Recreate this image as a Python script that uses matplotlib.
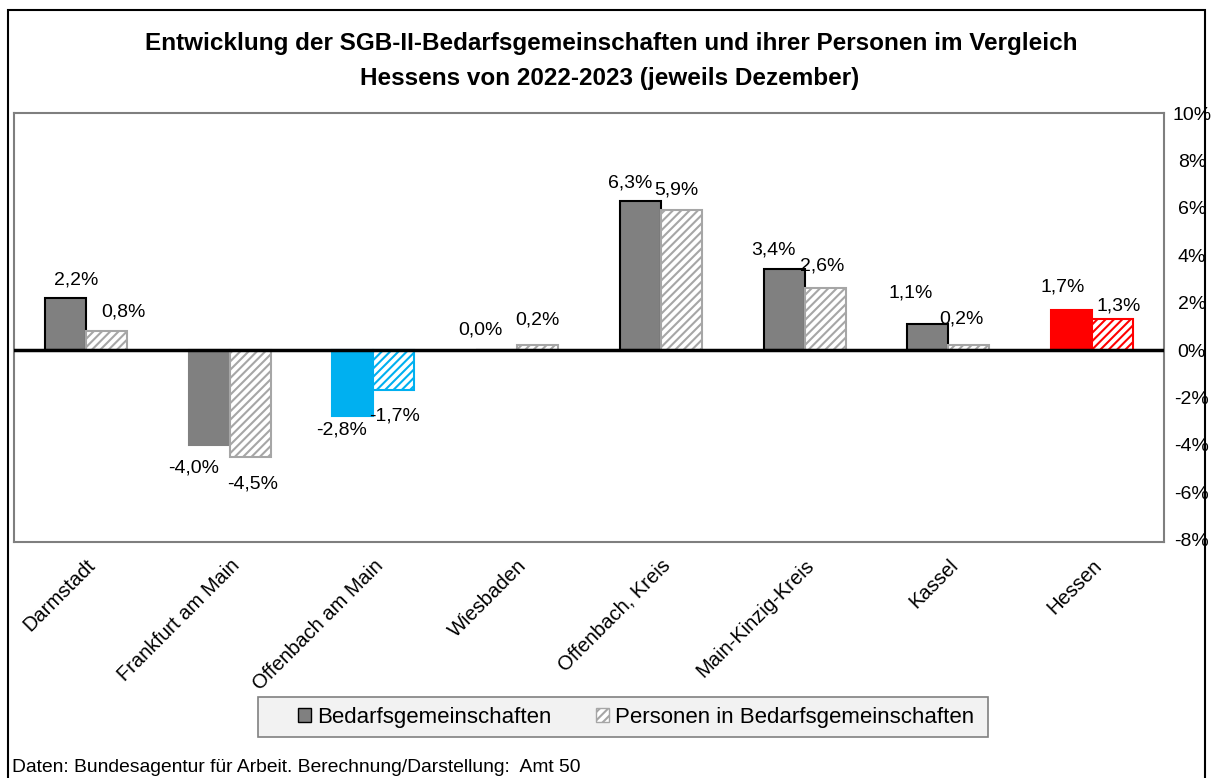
import matplotlib
matplotlib.use("Agg")
import matplotlib.pyplot as plt
from matplotlib.patches import Rectangle, Patch
from matplotlib.ticker import FuncFormatter
import numpy as np

plt.rcParams['font.family'] = ['Liberation Sans', 'DejaVu Sans']
plt.rcParams['hatch.linewidth'] = 1.5

# data (change 2022 -> 2023 in %)
regions = ["Darmstadt", "Frankfurt am Main", "Offenbach am Main", "Wiesbaden",
           "Offenbach, Kreis", "Main-Kinzig-Kreis", "Kassel", "Hessen"]
bg_values = [2.2, -4.0, -2.8, 0.0, 6.3, 3.4, 1.1, 1.7]
pers_values = [0.8, -4.5, -1.7, 0.2, 5.9, 2.6, 0.2, 1.3]
yticks = [-8, -6, -4, -2, 0, 2, 4, 6, 8, 10]

title1 = "Entwicklung der SGB-II-Bedarfsgemeinschaften und ihrer Personen im Vergleich"
title2 = "Hessens von 2022-2023 (jeweils Dezember)"
source = "Daten: Bundesagentur für Arbeit. Berechnung/Darstellung:  Amt 50"
legend_labels = ["Bedarfsgemeinschaften", "Personen in Bedarfsgemeinschaften"]

# colours per region
solid_col = ['#808080', '#808080', '#00b0f0', '#808080', '#808080', '#808080', '#808080', '#ff0000']
solid_edge = ['black', '#808080', '#00b0f0', 'black', 'black', 'black', 'black', '#ff0000']
hatch_col = ['#a6a6a6', '#a6a6a6', '#00b0f0', '#a6a6a6', '#a6a6a6', '#a6a6a6', '#a6a6a6', '#ff0000']

# hand-placed label offsets in pixels (dx, dy) from bar end, like in the original
bg_off = [(11, 18), (-16, -23), (-11, -14), (-16, 20), (-10, 18), (-11, 19), (-17, 31), (-9, 23)]
pers_off = [(17, 19), (3, -27), (1, -26), (0, 25), (-5, 20), (-3, 22), (-7, 26), (6, 13)]


def pct(v):
    return ("%.1f%%" % v).replace(".", ",")


def main():
    W, H = 1215, 778
    fig = plt.figure(figsize=(W / 100, H / 100), dpi=100)
    ax = fig.add_axes([14 / W, 1 - 542 / H, 1150 / W, 429 / H])

    x = np.arange(len(regions))
    w = 0.285
    for i in range(len(regions)):
        ax.bar(x[i] - w / 2, bg_values[i], w, color=solid_col[i],
               edgecolor=solid_edge[i], linewidth=1.5, zorder=2)
        ax.bar(x[i] + w / 2, pers_values[i], w, color='white', hatch='////',
               edgecolor=hatch_col[i], linewidth=1.5, zorder=2)

    # value labels
    for i in range(len(regions)):
        ax.annotate(pct(bg_values[i]), (x[i] - w / 2, bg_values[i]), xytext=bg_off[i],
                    textcoords='offset pixels', ha='center', va='center', fontsize=14)
        ax.annotate(pct(pers_values[i]), (x[i] + w / 2, pers_values[i]), xytext=pers_off[i],
                    textcoords='offset pixels', ha='center', va='center', fontsize=14)

    ax.axhline(0, color='black', linewidth=2.5, zorder=3)
    ax.set_xlim(-0.5, len(regions) - 0.5)
    ax.set_ylim(-8.1, 10)
    ax.set_yticks(yticks)
    ax.yaxis.tick_right()
    ax.yaxis.set_major_formatter(FuncFormatter(lambda v, p: "%d%%" % v))
    ax.tick_params(axis='y', length=0, pad=20, labelsize=14)
    for t in ax.get_yticklabels():
        t.set_horizontalalignment('center')
    ax.set_xticks(x)
    ax.set_xticklabels(regions, rotation=45, ha='right', rotation_mode='anchor', fontsize=14.5)
    ax.tick_params(axis='x', length=0, pad=10)
    for s in ax.spines.values():
        s.set_color('#7f7f7f')
        s.set_linewidth(1.5)

    fig.text(611 / W, 1 - 50 / H, title1, fontsize=17.5, fontweight='bold',
             ha='center', va='baseline')
    fig.text(610 / W, 1 - 85 / H, title2, fontsize=17.5, fontweight='bold',
             ha='center', va='baseline')

    # legend box
    fig.patches.append(Rectangle((258 / W, 1 - 737 / H), 730 / W, 40 / H,
                                 transform=fig.transFigure, facecolor='#f2f2f2',
                                 edgecolor='#808080', linewidth=1.2, zorder=0))
    handles = [Patch(facecolor='#808080', edgecolor='black', linewidth=1),
               Patch(facecolor='white', edgecolor='#a6a6a6', hatch='////', linewidth=1)]
    fig.legend(handles, legend_labels, loc='center', bbox_to_anchor=(636 / W, 1 - 717 / H),
               ncol=2, fontsize=16, handlelength=0.6, handleheight=0.6, handletextpad=0.25,
               columnspacing=2.0, frameon=False, borderaxespad=0)

    fig.text(12 / W, 1 - 768 / H, source, fontsize=13.9, va='center', ha='left')

    fig.patches.append(Rectangle((8 / W, -0.01), 1197 / W, 1 - 10 / H + 0.01,
                                 transform=fig.transFigure, fill=False,
                                 edgecolor='black', linewidth=1.5))

    fig.savefig("out.png", dpi=100)


if __name__ == "__main__":
    main()
